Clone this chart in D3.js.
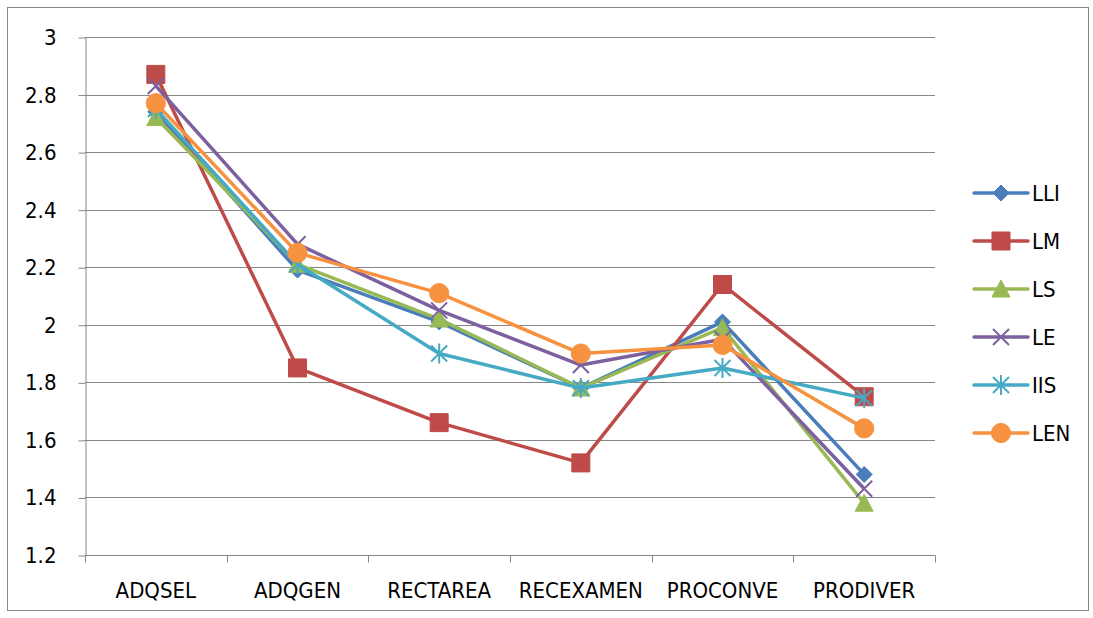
<!DOCTYPE html>
<meta charset="utf-8">
<html>
<style>
body { margin: 0; background: #fff; }
text { font-family: "Liberation Sans Narrow", "DejaVu Sans Condensed", sans-serif; fill: #000; }
.grid line { stroke: #868686; stroke-width: 1; }
.axis path, .axis line { stroke: #868686; }
</style>
<body>
<script src="https://cdn.jsdelivr.net/npm/d3@7"></script>
<script>

var width = 1093, height = 618;

// categories and series
var categories = ["ADQSEL", "ADQGEN", "RECTAREA", "RECEXAMEN", "PROCONVE", "PRODIVER"];
var yTicks = [1.2, 1.4, 1.6, 1.8, 2, 2.2, 2.4, 2.6, 2.8, 3];

var LLI = [2.74, 2.19, 2.01, 1.78, 2.01, 1.48];
var LM  = [2.87, 1.85, 1.66, 1.52, 2.14, 1.75];
var LS  = [2.72, 2.21, 2.02, 1.78, 1.99, 1.38];
var LE  = [2.83, 2.28, 2.05, 1.86, 1.95, 1.43];
var IIS = [2.75, 2.21, 1.90, 1.78, 1.85, 1.745];
var LEN = [2.77, 2.25, 2.11, 1.90, 1.93, 1.64];

var seriesNames = ["LLI", "LM", "LS", "LE", "IIS", "LEN"];
var seriesValues = [LLI, LM, LS, LE, IIS, LEN];
var colors = ["#4a7ebb", "#be4b48", "#98b954", "#7d60a0", "#46aac5", "#f69240"];
var markers = ["diamond", "square", "triangle", "x", "star", "circle"];

var svg = d3.select("body").append("svg")
    .attr("width", width)
    .attr("height", height);

// chart border
svg.append("rect")
    .attr("x", 7.5).attr("y", 7.5)
    .attr("width", 1081).attr("height", 603)
    .attr("fill", "none").attr("stroke", "#868686");

var plot = {left: 85, right: 935, top: 37, bottom: 555};

var x = d3.scaleBand().domain(categories).range([plot.left, plot.right]);
var y = d3.scaleLinear().domain([1.2, 3]).range([plot.bottom, plot.top]);

// gridlines
svg.append("g").attr("class", "grid")
  .selectAll("line").data(yTicks.slice(1)).enter().append("line")
    .attr("x1", plot.left).attr("x2", plot.right)
    .attr("y1", function(d) { return Math.round(y(d)) + 0.5; })
    .attr("y2", function(d) { return Math.round(y(d)) + 0.5; });

// y axis
var yAxis = svg.append("g").attr("class", "axis")
    .attr("transform", "translate(" + (plot.left + 0.5) + ",0.5)")
    .call(d3.axisLeft(y).tickValues(yTicks).tickSize(7).tickSizeOuter(0).tickPadding(22)
      .tickFormat(function(d) { return d3.format("")(d); }));
yAxis.selectAll("text").style("font-size", "22px")
    .style("font-family", "'Liberation Sans Narrow', 'DejaVu Sans Condensed', sans-serif");

// x axis with ticks at band edges
var xAxis = svg.append("g").attr("class", "axis")
    .attr("transform", "translate(0," + (plot.bottom + 0.5) + ")");
xAxis.append("line")
    .attr("x1", plot.left).attr("x2", plot.right);
xAxis.selectAll(".edge").data(categories.concat([null])).enter().append("line")
    .attr("class", "edge")
    .attr("x1", function(d, i) { return Math.round(plot.left + i * x.bandwidth()) + 0.5; })
    .attr("x2", function(d, i) { return Math.round(plot.left + i * x.bandwidth()) + 0.5; })
    .attr("y1", 0).attr("y2", 7);
xAxis.selectAll("text").data(categories).enter().append("text")
    .attr("x", function(d) { return x(d) + x.bandwidth() / 2; })
    .attr("y", 42)
    .attr("text-anchor", "middle")
    .style("font-size", "22px")
    .text(function(d) { return d; });

function markerPath(type) {
  switch (type) {
    case "diamond": return "M0,-8L8,0L0,8L-8,0Z";
    case "square": return "M-9,-9H9V9H-9Z";
    case "triangle": return "M0,-9L9,8H-9Z";
    case "x": return "M-8,-8L8,8M8,-8L-8,8";
    case "star": return "M-8,-8L8,8M8,-8L-8,8M0,-10V10";
    case "circle": return d3.symbol().type(d3.symbolCircle).size(290)();
  }
}

function drawMarker(g, type, color) {
  var open = (type === "x" || type === "star");
  g.append("path")
    .attr("d", markerPath(type))
    .attr("fill", open ? "none" : color)
    .attr("stroke", color)
    .attr("stroke-width", open ? 2 : 1);
}

var line = d3.line()
    .x(function(d, i) { return x(categories[i]) + x.bandwidth() / 2; })
    .y(function(d) { return y(d); });

seriesValues.forEach(function(vals, s) {
  var g = svg.append("g").attr("class", "series");
  g.append("path")
    .attr("d", line(vals))
    .attr("fill", "none")
    .attr("stroke", colors[s])
    .attr("stroke-width", 3.5)
    .attr("stroke-linejoin", "round");
  vals.forEach(function(v, i) {
    var m = g.append("g")
      .attr("transform", "translate(" + (x(categories[i]) + x.bandwidth() / 2) + "," + y(v) + ")");
    drawMarker(m, markers[s], colors[s]);
  });
});

// legend
var legend = svg.append("g").attr("class", "legend");
seriesNames.forEach(function(name, s) {
  var ly = 193 + s * 48;
  var item = legend.append("g").attr("transform", "translate(0," + ly + ")");
  item.append("line")
    .attr("x1", 974).attr("x2", 1028)
    .attr("stroke", colors[s]).attr("stroke-width", 3.5)
    .attr("stroke-linecap", "round");
  var m = item.append("g").attr("transform", "translate(1001,0)");
  drawMarker(m, markers[s], colors[s]);
  item.append("text")
    .attr("x", 1032).attr("y", 8)
    .style("font-size", "22px")
    .text(name);
});

</script>
</body>
</html>
